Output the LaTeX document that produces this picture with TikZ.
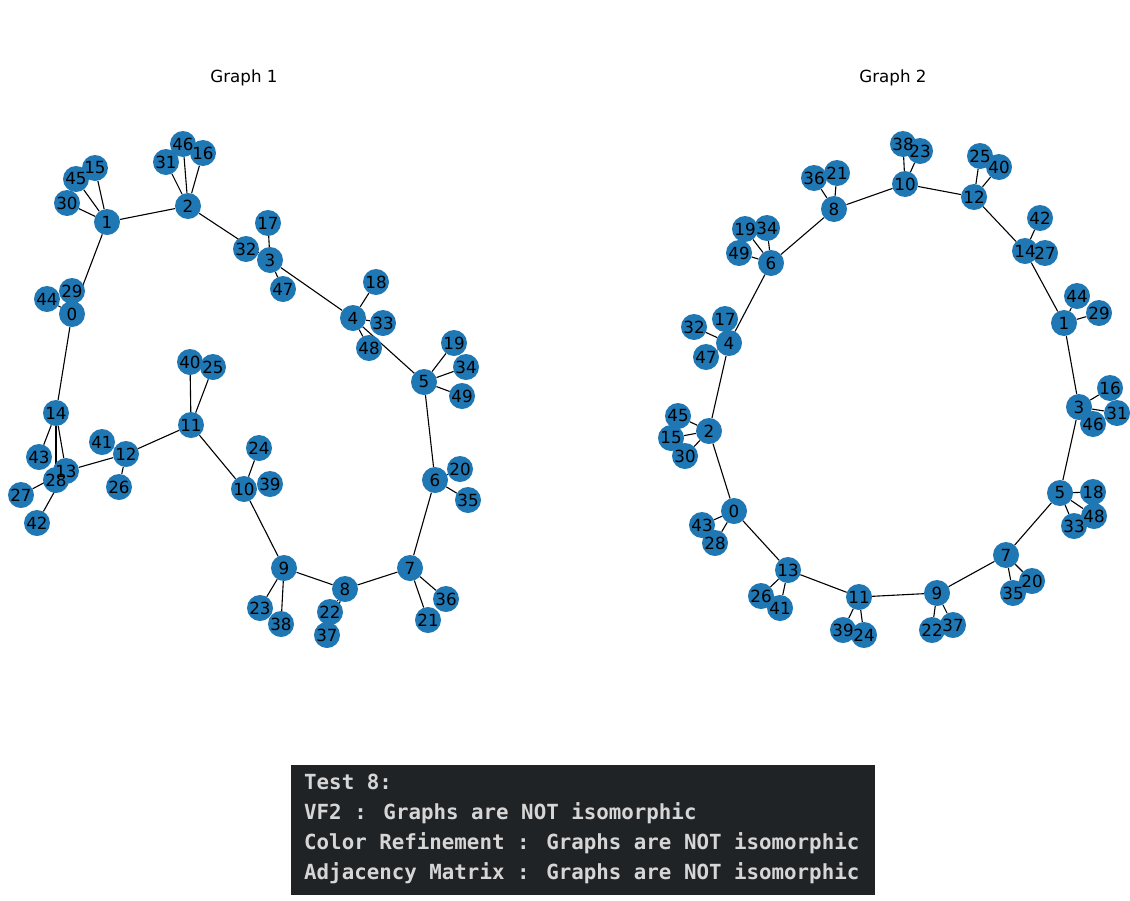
\documentclass[tikz,border=0pt]{standalone}
\usepackage{fontspec}
\setmainfont{DejaVu Sans}
\newfontfamily\consolefont{DejaVu Sans Mono}
\usepackage{tikz}
\usetikzlibrary{arrows}
\usepackage{color}
\definecolor{nodecolor}{rgb}{0.122,0.467,0.706}
\definecolor{consolebg}{RGB}{32,35,38}
\definecolor{consoletext}{RGB}{214,214,214}
\pgfdeclarelayer{edgelayer}
\pgfdeclarelayer{disklayer}
\pgfsetlayers{edgelayer,disklayer,main}

\begin{document}
\begin{tikzpicture}[x=1pt,y=-1pt]
  \tikzstyle{vertex}=[circle,minimum size=26pt,inner sep=0pt,text=black,
                      font=\fontsize{16.7}{18}\selectfont]
  \tikzstyle{link}=[every edge/.style={draw=black,line width=1.1pt}]
  \tikzstyle{title}=[text=black,font=\fontsize{16.7}{18}\selectfont]
  \tikzstyle{console}=[anchor=base west,inner sep=0pt,text=consoletext,
                       font=\consolefont\bfseries\fontsize{20.8}{24}\selectfont]

  \useasboundingbox (0,0) rectangle (1130,900);

  \node[title] (title1) at (244,78) {Graph 1};
  \node[title] (title2) at (893,78) {Graph 2};

  % graph 1
  \node[vertex] (a0)  at (72,314)  {0};
  \node[vertex] (a1)  at (107,222) {1};
  \node[vertex] (a2)  at (188,206) {2};
  \node[vertex] (a3)  at (270,260) {3};
  \node[vertex] (a4)  at (353,318) {4};
  \node[vertex] (a5)  at (424,382) {5};
  \node[vertex] (a6)  at (435,480) {6};
  \node[vertex] (a7)  at (410,568) {7};
  \node[vertex] (a8)  at (345,589) {8};
  \node[vertex] (a9)  at (284,568) {9};
  \node[vertex] (a10) at (244,489) {10};
  \node[vertex] (a11) at (191,425) {11};
  \node[vertex] (a12) at (126,454) {12};
  \node[vertex] (a13) at (66,471)  {13};
  \node[vertex] (a14) at (56,413)  {14};
  \node[vertex] (a15) at (95,168)  {15};
  \node[vertex] (a16) at (203,153) {16};
  \node[vertex] (a17) at (268,223) {17};
  \node[vertex] (a18) at (376,282) {18};
  \node[vertex] (a19) at (454,343) {19};
  \node[vertex] (a20) at (460,469) {20};
  \node[vertex] (a21) at (428,620) {21};
  \node[vertex] (a22) at (330,612) {22};
  \node[vertex] (a23) at (260,608) {23};
  \node[vertex] (a24) at (259,448) {24};
  \node[vertex] (a25) at (213,367) {25};
  \node[vertex] (a26) at (119,487) {26};
  \node[vertex] (a27) at (21,495)  {27};
  \node[vertex] (a28) at (56,480)  {28};
  \node[vertex] (a29) at (72,291)  {29};
  \node[vertex] (a30) at (67,203)  {30};
  \node[vertex] (a31) at (166,162) {31};
  \node[vertex] (a32) at (246,249) {32};
  \node[vertex] (a33) at (383,323) {33};
  \node[vertex] (a34) at (466,367) {34};
  \node[vertex] (a35) at (468,500) {35};
  \node[vertex] (a36) at (446,599) {36};
  \node[vertex] (a37) at (327,635) {37};
  \node[vertex] (a38) at (281,624) {38};
  \node[vertex] (a39) at (270,484) {39};
  \node[vertex] (a40) at (190,362) {40};
  \node[vertex] (a41) at (102,442) {41};
  \node[vertex] (a42) at (37,523)  {42};
  \node[vertex] (a43) at (39,457)  {43};
  \node[vertex] (a44) at (47,299)  {44};
  \node[vertex] (a45) at (76,179)  {45};
  \node[vertex] (a46) at (183,144) {46};
  \node[vertex] (a47) at (283,289) {47};
  \node[vertex] (a48) at (369,348) {48};
  \node[vertex] (a49) at (462,396) {49};

  % graph 2
  \node[vertex] (b0)  at (734,511)  {0};
  \node[vertex] (b1)  at (1064,323) {1};
  \node[vertex] (b2)  at (709,431)  {2};
  \node[vertex] (b3)  at (1079,407) {3};
  \node[vertex] (b4)  at (729,343)  {4};
  \node[vertex] (b5)  at (1060,493) {5};
  \node[vertex] (b6)  at (771,263)  {6};
  \node[vertex] (b7)  at (1006,555) {7};
  \node[vertex] (b8)  at (834,209)  {8};
  \node[vertex] (b9)  at (937,593)  {9};
  \node[vertex] (b10) at (905,184)  {10};
  \node[vertex] (b11) at (859,597)  {11};
  \node[vertex] (b12) at (974,197)  {12};
  \node[vertex] (b13) at (788,570)  {13};
  \node[vertex] (b14) at (1025,251) {14};
  \node[vertex] (b15) at (671,438)  {15};
  \node[vertex] (b16) at (1110,388) {16};
  \node[vertex] (b17) at (725,319)  {17};
  \node[vertex] (b18) at (1093,492) {18};
  \node[vertex] (b19) at (745,229)  {19};
  \node[vertex] (b20) at (1032,581) {20};
  \node[vertex] (b21) at (837,173)  {21};
  \node[vertex] (b22) at (932,630)  {22};
  \node[vertex] (b23) at (920,151)  {23};
  \node[vertex] (b24) at (864,635)  {24};
  \node[vertex] (b25) at (980,156)  {25};
  \node[vertex] (b26) at (761,596)  {26};
  \node[vertex] (b27) at (1045,253) {27};
  \node[vertex] (b28) at (715,543)  {28};
  \node[vertex] (b29) at (1099,313) {29};
  \node[vertex] (b30) at (685,456)  {30};
  \node[vertex] (b31) at (1117,413) {31};
  \node[vertex] (b32) at (694,327)  {32};
  \node[vertex] (b33) at (1074,526) {33};
  \node[vertex] (b34) at (767,228)  {34};
  \node[vertex] (b35) at (1013,593) {35};
  \node[vertex] (b36) at (814,178)  {36};
  \node[vertex] (b37) at (953,625)  {37};
  \node[vertex] (b38) at (903,144)  {38};
  \node[vertex] (b39) at (843,630)  {39};
  \node[vertex] (b40) at (999,167)  {40};
  \node[vertex] (b41) at (780,608)  {41};
  \node[vertex] (b42) at (1040,218) {42};
  \node[vertex] (b43) at (702,525)  {43};
  \node[vertex] (b44) at (1077,296) {44};
  \node[vertex] (b45) at (678,416)  {45};
  \node[vertex] (b46) at (1093,424) {46};
  \node[vertex] (b47) at (706,357)  {47};
  \node[vertex] (b48) at (1094,516) {48};
  \node[vertex] (b49) at (739,253)  {49};

  \begin{pgfonlayer}{disklayer}
    \foreach \n in {0,...,49}
      \fill[nodecolor] (a\n.center) circle[radius=13pt]
                       (b\n.center) circle[radius=13pt];
  \end{pgfonlayer}

  \begin{pgfonlayer}{edgelayer}
  \path[link] (a0) edge (a1)  (a1) edge (a2)  (a2) edge (a3)  (a3) edge (a4)
        (a4) edge (a5)  (a5) edge (a6)  (a6) edge (a7)  (a7) edge (a8)
        (a8) edge (a9)  (a9) edge (a10) (a10) edge (a11) (a11) edge (a12)
        (a12) edge (a13) (a13) edge (a14) (a14) edge (a0)
        (a0) edge (a29) (a0) edge (a44)
        (a1) edge (a15) (a1) edge (a45) (a1) edge (a30)
        (a2) edge (a31) (a2) edge (a46) (a2) edge (a16)
        (a3) edge (a17) (a3) edge (a32) (a3) edge (a47)
        (a4) edge (a18) (a4) edge (a33) (a4) edge (a48)
        (a5) edge (a19) (a5) edge (a34) (a5) edge (a49)
        (a6) edge (a20) (a6) edge (a35)
        (a7) edge (a21) (a7) edge (a36)
        (a8) edge (a22) (a8) edge (a37)
        (a9) edge (a23) (a9) edge (a38)
        (a10) edge (a24) (a10) edge (a39)
        (a11) edge (a25) (a11) edge (a40)
        (a12) edge (a26) (a12) edge (a41)
        (a13) edge (a27) (a13) edge (a42)
        (a14) edge (a28) (a14) edge (a43);

  \path[link] (b0) edge (b2)  (b2) edge (b4)  (b4) edge (b6)  (b6) edge (b8)
        (b8) edge (b10) (b10) edge (b12) (b12) edge (b14) (b14) edge (b1)
        (b1) edge (b3)  (b3) edge (b5)  (b5) edge (b7)  (b7) edge (b9)
        (b9) edge (b11) (b11) edge (b13) (b13) edge (b0)
        (b0) edge (b43) (b0) edge (b28)
        (b2) edge (b45) (b2) edge (b15) (b2) edge (b30)
        (b4) edge (b17) (b4) edge (b32) (b4) edge (b47)
        (b6) edge (b19) (b6) edge (b34) (b6) edge (b49)
        (b8) edge (b36) (b8) edge (b21)
        (b10) edge (b38) (b10) edge (b23)
        (b12) edge (b25) (b12) edge (b40)
        (b14) edge (b42) (b14) edge (b27)
        (b1) edge (b44) (b1) edge (b29)
        (b3) edge (b16) (b3) edge (b31) (b3) edge (b46)
        (b5) edge (b18) (b5) edge (b48) (b5) edge (b33)
        (b7) edge (b20) (b7) edge (b35)
        (b9) edge (b22) (b9) edge (b37)
        (b11) edge (b39) (b11) edge (b24)
        (b13) edge (b26) (b13) edge (b41);
  \end{pgfonlayer}

  % console output
  \fill[consolebg] (291,765) rectangle (875,895);
  \node[console] (test)   at (304,789) {Test 8:};
  \node[console] (vftwo)  at (304,819) {VF2 : Graphs are NOT isomorphic};
  \node[console] (colref) at (304,849) {Color Refinement : Graphs are NOT isomorphic};
  \node[console] (adjmat) at (304,879) {Adjacency Matrix : Graphs are NOT isomorphic};
\end{tikzpicture}
\end{document}
